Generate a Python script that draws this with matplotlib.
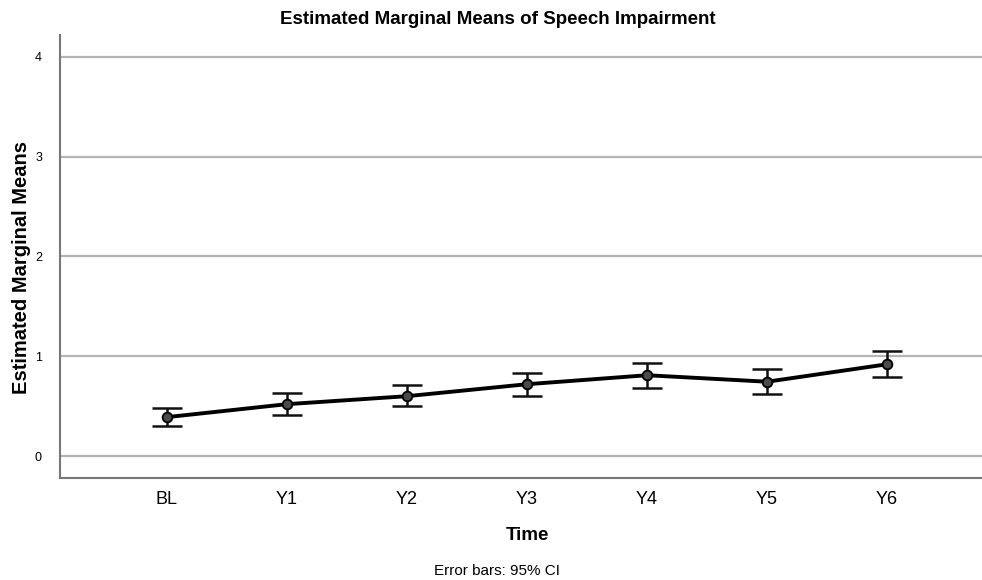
import matplotlib
matplotlib.use("Agg")
from matplotlib import pyplot as plt
import numpy as np

# marginal means of speech impairment with 95% CI bounds
time_points = ["BL", "Y1", "Y2", "Y3", "Y4", "Y5", "Y6"]
means = [0.39, 0.52, 0.60, 0.72, 0.81, 0.745, 0.92]
ci_low = [0.30, 0.41, 0.50, 0.60, 0.68, 0.62, 0.79]
ci_high = [0.48, 0.63, 0.71, 0.83, 0.93, 0.87, 1.05]

plt.rcParams["font.family"] = ["Liberation Sans", "DejaVu Sans"]

fig = plt.figure(figsize=(9.82, 5.8), dpi=100)
ax = fig.add_axes([60 / 982, 1 - 478 / 580, 1 - 60 / 982, (478 - 35) / 580])

x = np.arange(len(time_points))
m = np.array(means)
yerr = [m - np.array(ci_low), np.array(ci_high) - m]

ax.errorbar(x, m, yerr=yerr, fmt="none", ecolor="#111111", elinewidth=1.8,
            capsize=11, capthick=1.8, zorder=3)
ax.plot(x, m, color="black", linewidth=2.8, zorder=4)
ax.plot(x, m, "o", markersize=7, markerfacecolor="#4a4a4a",
        markeredgecolor="black", markeredgewidth=1.3, zorder=5)

ax.set_xlim(-0.89, 6.79)
ax.set_ylim(-0.22, 4.22)
ax.set_yticks([0, 1, 2, 3, 4])
ax.set_xticks(x)
ax.set_xticklabels(time_points, fontsize=13)
ax.tick_params(axis="y", labelsize=9, length=0, pad=13)
ax.tick_params(axis="x", length=0, pad=9)
ax.yaxis.grid(True, color="#b4b4b4", linewidth=1.6)
ax.set_axisbelow(True)

for side in ["top", "right"]:
    ax.spines[side].set_visible(False)
ax.spines["left"].set_color("#777777")
ax.spines["left"].set_linewidth(1.5)
ax.spines["bottom"].set_color("#777777")
ax.spines["bottom"].set_linewidth(1.5)

fig.text(527 / 982, 1 - 536 / 580, "Time", ha="center", va="center",
         fontsize=13.5, fontweight="bold")
fig.text(22 / 982, 1 - 268 / 580, "Estimated Marginal Means", ha="center", va="center",
         rotation=90, fontsize=14.5, fontweight="bold")
fig.text(498 / 982, 1 - 20 / 580, "Estimated Marginal Means of Speech Impairment",
         ha="center", va="center", fontsize=13.5, fontweight="bold")
fig.text(497 / 982, 1 - 571 / 580, "Error bars: 95% CI",
         ha="center", va="center", fontsize=11)

fig.savefig("out.png", dpi=100)
